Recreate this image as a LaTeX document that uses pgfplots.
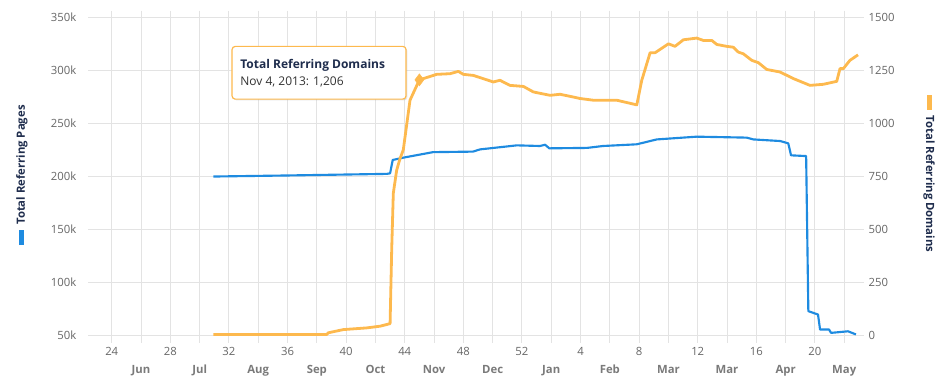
\documentclass[border=0pt]{standalone}
\usepackage{pgfplots}
\pgfplotsset{compat=1.18}
\usepackage{fontspec}
\setmainfont{Open Sans}
\usetikzlibrary{shadows}
\definecolor{bl}{HTML}{1E8BE0}
\definecolor{orng}{HTML}{FDB94E}
\definecolor{navy}{HTML}{1F2D4D}
\definecolor{tickc}{HTML}{666666}
\definecolor{monc}{HTML}{7A7A7A}
\definecolor{gridc}{HTML}{E3E3E3}
\begin{document}
\begin{tikzpicture}
\useasboundingbox (0,0) rectangle (709.5pt,285.75pt);
\pgfplotsset{
  base/.style={
    at={(66pt,34.1pt)}, anchor=south west, scale only axis,
    width=582pt, height=238.5pt, xmin=-1.62, xmax=51.35,
    font=\fontsize{8.5}{10}\selectfont,
    axis line style={draw=none},
    tick label style={color=tickc},
  }
}
\begin{axis}[base,
  ymin=50, ymax=350,
  ytick={50,100,...,350},
  yticklabels={50k,100k,150k,200k,250k,300k,350k},
  xtick={0,4,...,48},
  xticklabels={24,28,32,36,40,44,48,52,4,8,12,16,20},
  minor xtick={2,6,...,50},
  extra x ticks={2,6,...,50},
  extra x tick labels={Jun,Jul,Aug,Sep,Oct,Nov,Dec,Jan,Feb,Mar,Mar,Apr,May},
  extra x tick style={tick label style={yshift=-13.5pt, font=\bfseries\fontsize{8.5}{10}\selectfont, color=monc}},
  xmajorgrids, xminorgrids, ymajorgrids,
  major grid style={gridc, line width=0.75pt},
  minor grid style={gridc, line width=0.75pt},
  tick align=outside,
  major tick length=5.25pt, minor tick length=5.25pt,
  xtick style={gridc, line width=0.75pt},
  minor tick style={gridc, line width=0.75pt},
  ytick style={draw=none},
  ylabel={\textcolor{bl}{\rule[0.12em]{11.25pt}{3.5pt}}\hspace{4pt}Total Referring Pages},
  ylabel style={at={(axis description cs:0,0.5)}, anchor=center, yshift=49.5pt, xshift=1pt,
    font=\bfseries\fontsize{8.5}{10}\selectfont, color=navy},
]
\addplot[bl, line width=1.6pt, line join=round] coordinates {
(6.94,200) (12,201) (18.77,202.5) (19.0,203) (19.18,215.6) (19.9,217.8)
(21.93,223) (24.66,223.5) (25.14,225.6) (27.65,229.4) (29.24,228.8)
(29.58,230) (29.87,226.6) (32.44,227) (33.54,228.8) (35.84,230.4)
(37.2,235) (39.93,237.6) (43.34,236.7) (43.8,235) (45.62,233.5)
(46.18,231.3) (46.37,220) (47.4,219.3) (47.55,73) (48.21,69.8)
(48.35,55.7) (48.96,55.7) (49.1,52.5) (50.26,54) (50.8,51)
};
\end{axis}
\begin{axis}[base,
  axis y line*=right, axis x line=none,
  ymin=0, ymax=1500,
  ytick={0,250,...,1500},
  yticklabels={0,250,500,750,1000,1250,1500},
  ytick style={draw=none},
  ylabel={\textcolor{orng}{\rule[0.12em]{11.25pt}{3.5pt}}\hspace{4pt}Total Referring Domains},
  ylabel style={at={(axis description cs:1,0.5)}, anchor=center, rotate=180, yshift=48.75pt, xshift=-2pt,
    font=\bfseries\fontsize{8.5}{10}\selectfont, color=navy},
]
\addplot[orng, line width=2.1pt, line join=round] coordinates {
(6.94,5) (14.68,5) (14.79,13) (15.81,28) (17.41,36) (18.31,44) (19.0,56)
(19.11,404) (19.22,671) (19.45,780) (19.68,835) (19.9,875) (20.36,1110)
(21.0,1206) (21.73,1222) (22.18,1232) (23.09,1235) (23.66,1246) (24.0,1232)
(24.68,1227) (26.05,1196) (26.5,1204) (27.18,1180) (28.1,1175) (28.78,1149)
(29.92,1133) (30.6,1138) (31.51,1125) (31.97,1118) (32.87,1110) (34.47,1110)
(35.84,1088) (36.18,1204) (36.75,1334) (37.09,1334) (38.0,1376) (38.45,1364)
(39.02,1395) (39.93,1403) (40.38,1392) (40.96,1392) (41.3,1373) (41.98,1364)
(42.43,1360) (42.77,1337) (43.11,1329) (43.69,1298) (44.14,1287) (44.71,1255)
(45.62,1243) (46.53,1212) (47.66,1180) (48.57,1185) (49.49,1199) (49.71,1259)
(49.94,1259) (50.39,1298) (50.94,1324)
};
\addplot[orng, only marks, mark=diamond*, mark size=4.5pt] coordinates {(21.0,1206)};
\draw[orng, line width=0.9pt, fill=white, rounded corners=2.5pt,
  drop shadow={opacity=0.2, shadow xshift=1pt, shadow yshift=-1pt}]
  (axis cs:8.21,1364) rectangle (axis cs:20.09,1115);
\node[anchor=base west, inner sep=0, font=\bfseries\fontsize{9}{10}\selectfont, text=navy]
  at (axis cs:8.76,1259.6) {Total Referring Domains};
\node[anchor=base west, inner sep=0, font=\fontsize{9}{10}\selectfont, text=black!80]
  at (axis cs:8.76,1180.8) {Nov 4, 2013: 1,206};
\end{axis}
\end{tikzpicture}
\end{document}
